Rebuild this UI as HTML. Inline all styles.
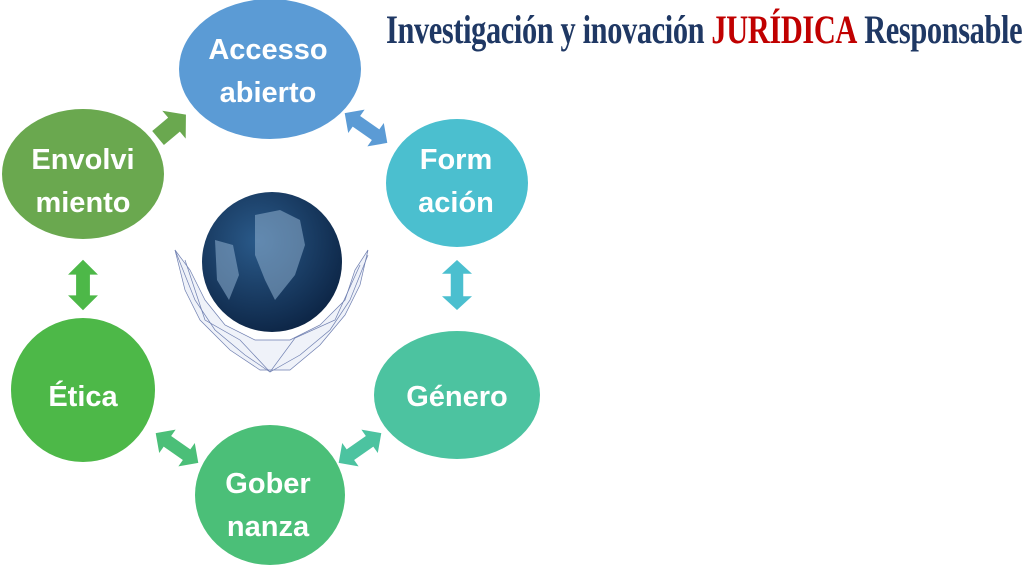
<!DOCTYPE html>
<html><head><meta charset="utf-8"><style>
body{margin:0;width:1024px;height:576px;background:#fff;overflow:hidden;position:relative;font-family:"Liberation Sans",sans-serif}
.t{position:absolute;left:386px;top:6px;font-family:"Liberation Serif",serif;font-weight:bold;font-size:40px;color:#1f3864;white-space:nowrap;transform-origin:0 0;letter-spacing:-0.5px}
.t b{color:#c00000}
</style></head><body>
<svg width="1024" height="576" style="position:absolute;left:0;top:0">
<defs>
<radialGradient id="g" cx="40%" cy="35%" r="70%"><stop offset="0" stop-color="#2a5a8a"/><stop offset="1" stop-color="#0c2444"/></radialGradient>
</defs>
<g stroke="#6f7fb0" stroke-width="0.7" fill="#dfe5f3" fill-opacity="0.5">
<polygon points="175,250 185,290 200,320 230,350 260,370 290,370 320,345 345,315 360,285 368,250 355,270 345,300 320,325 290,340 255,340 225,325 205,300 190,270"/>
<polyline fill="none" points="175,250 195,300 215,330 245,355 270,372 300,355 330,330 350,300 368,255"/>
<polyline fill="none" points="185,260 205,320 240,340 270,372 295,338 335,320 360,265"/>
</g>
<circle cx="272" cy="262" r="70" fill="url(#g)"/>
<g fill="#8fb0d0" opacity="0.55">
<path d="M255,215 l25,-5 20,10 5,25 -10,30 -20,25 -10,-20 -10,-25 z"/>
<path d="M215,240 l18,5 6,30 -10,25 -12,-20 z"/>
</g>
<ellipse cx="270" cy="69" rx="91" ry="70" fill="#5b9bd5"/>
<ellipse cx="457" cy="183" rx="71" ry="64" fill="#4bbfcf"/>
<ellipse cx="83" cy="174" rx="81" ry="65" fill="#6aa84f"/>
<ellipse cx="83" cy="390" rx="72" ry="72" fill="#4db848"/>
<ellipse cx="457" cy="395" rx="83" ry="64" fill="#4cc3a0"/>
<ellipse cx="270" cy="495" rx="75" ry="70" fill="#4bbf78"/>
<g transform="translate(170,128) rotate(-40) scale(1.3)" fill="#6aa84f"><polygon points="-12,-7 4,-7 4,-14 16,0 4,14 4,7 -12,7"/></g>
<g transform="translate(366,128) rotate(35) scale(1.3)" fill="#5b9bd5"><polygon points="-20,0 -9,-11 -9,-5 9,-5 9,-11 20,0 9,11 9,5 -9,5 -9,11"/></g>
<g transform="translate(457,285) rotate(90) scale(1.25)" fill="#4bbfcf"><polygon points="-20,0 -9,-12 -9,-5 9,-5 9,-12 20,0 9,12 9,5 -9,5 -9,12"/></g>
<g transform="translate(83,285) rotate(90) scale(1.15)" fill="#4db848"><polygon points="-22,0 -9,-13 -9,-6 9,-6 9,-13 22,0 9,13 9,6 -9,6 -9,13"/></g>
<g transform="translate(177,448) rotate(35) scale(1.3)" fill="#4bbf78"><polygon points="-20,0 -9,-11 -9,-5 9,-5 9,-11 20,0 9,11 9,5 -9,5 -9,11"/></g>
<g transform="translate(360,448) rotate(-35) scale(1.3)" fill="#4cc3a0"><polygon points="-20,0 -9,-11 -9,-5 9,-5 9,-11 20,0 9,11 9,5 -9,5 -9,11"/></g>
<g fill="#fff" font-family="Liberation Sans, sans-serif" font-weight="bold" font-size="29" text-anchor="middle">
<text x="268" y="59">Accesso</text><text x="268" y="102">abierto</text>
<text x="456" y="169">Form</text><text x="456" y="212">ación</text>
<text x="83" y="169">Envolvi</text><text x="83" y="212">miento</text>
<text x="83" y="406">Ética</text>
<text x="457" y="406">Género</text>
<text x="268" y="493">Gober</text><text x="268" y="536">nanza</text>
</g>
</svg>
<div class="t" style="transform:scaleX(0.76)">Investigación y inovación <b>JURÍDICA</b> Responsable</div>
</body></html>
